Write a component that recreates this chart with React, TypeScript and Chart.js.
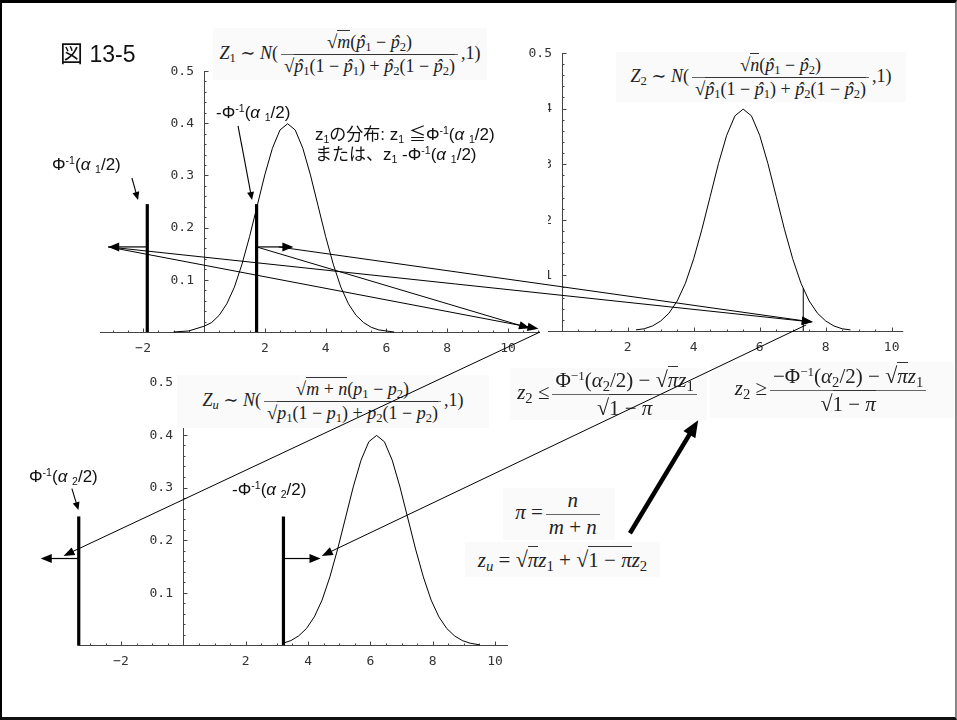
import React, { useEffect, useRef } from "react";
import { Chart, registerables } from "chart.js";

Chart.register(...registerables);

/* ---------------- values ---------------- */

// density of Z1 (upper left panel)
const z1CurveX = [-1.0, -0.5, 0, 0.25, 0.5, 0.75, 1.0, 1.25, 1.5, 1.75, 2.0, 2.25, 2.5, 2.75, 3.0, 3.25, 3.5, 3.75, 4.0, 4.25, 4.5, 4.75, 5.0, 5.25, 5.5, 5.75, 6.0, 6.25];
const z1CurveY = [0, 0.002, 0.011, 0.018, 0.032, 0.054, 0.086, 0.13, 0.183, 0.242, 0.301, 0.352, 0.387, 0.399, 0.387, 0.352, 0.301, 0.242, 0.183, 0.13, 0.086, 0.054, 0.032, 0.018, 0.009, 0.004, 0.002, 0];

// density of Z2 (upper right panel)
const z2CurveX = [2.25, 2.5, 2.75, 3.0, 3.25, 3.5, 3.75, 4.0, 4.25, 4.5, 4.75, 5.0, 5.25, 5.5, 5.75, 6.0, 6.25, 6.5, 6.75, 7.0, 7.25, 7.5, 7.75, 8.0, 8.25, 8.5, 8.75];
const z2CurveY = [0.002, 0.004, 0.009, 0.018, 0.032, 0.054, 0.086, 0.13, 0.183, 0.242, 0.301, 0.352, 0.387, 0.399, 0.387, 0.352, 0.301, 0.242, 0.183, 0.13, 0.086, 0.054, 0.032, 0.018, 0.009, 0.004, 0.002];

// density of Zu (lower panel)
const zuCurveX = [3.2, 3.45, 3.7, 3.95, 4.2, 4.45, 4.7, 4.95, 5.2, 5.45, 5.7, 5.95, 6.2, 6.45, 6.7, 6.95, 7.2, 7.45, 7.7, 7.95, 8.2, 8.45, 8.7, 8.95, 9.2, 9.5];
const zuCurveY = [0.004, 0.009, 0.018, 0.032, 0.054, 0.086, 0.13, 0.183, 0.242, 0.301, 0.352, 0.387, 0.399, 0.387, 0.352, 0.301, 0.242, 0.183, 0.13, 0.086, 0.054, 0.032, 0.018, 0.009, 0.004, 0.001];

// critical values (thick vertical lines) and their height
const z1CriticalX = [-1.865, 1.73];
const zuCriticalX = [-3.36, 3.21];
const criticalTop = 0.245;

// thin marker on the Z2 density
const z2MarkX = 7.32;
const z2MarkTop = 0.077;

// axis ticks
const xTickValues = [-2, 2, 4, 6, 8, 10];
const xTickLabels = ["\u22122", "2", "4", "6", "8", "10"];
const z2XTickValues = [2, 4, 6, 8, 10];
const z2XTickLabels = ["2", "4", "6", "8", "10"];
const yTickValues = [0.1, 0.2, 0.3, 0.4, 0.5];
const yTickLabels = ["0.1", "0.2", "0.3", "0.4", "0.5"];
const xMinorStep = 0.5;
const yMinorStep = 0.02;

type PanelKey = "z1" | "z2" | "zu";

// rejection arrows: panel, start x, y, tip x
const rejectArrows: [PanelKey, number, number, number][] = [
  ["z1", -1.865, 0.163, -3.15],
  ["z1", 1.73, 0.163, 2.94],
  ["zu", -3.36, 0.165, -4.58],
  ["zu", 3.21, 0.165, 4.4],
];

// short pointers to the critical values: panel, from x, y, to x, y
const pointerArrows: [PanelKey, number, number, number, number][] = [
  ["z1", -2.37, 0.295, -2.17, 0.253],
  ["z1", 1.12, 0.395, 1.58, 0.253],
  ["zu", -3.58, 0.298, -3.37, 0.257],
];

// arrows carrying regions between panels: from panel, x, y, to panel, x, y
const mapArrows: [PanelKey, number, number, PanelKey, number, number][] = [
  ["z1", -3.15, 0.163, "z1", 11.0, 0.006],
  ["z1", 1.73, 0.163, "z1", 10.72, 0.007],
  ["z1", -3.15, 0.163, "z2", 7.61, 0.016],
  ["z1", 2.45, 0.163, "z2", 7.61, 0.016],
  ["z1", 11.05, 0, "zu", -3.85, 0.17],
  ["z2", 7.41, 0.011, "zu", 4.44, 0.17],
];

// bold arrow pointing at the z2 bounds (lower panel coordinates)
const boldArrow: [PanelKey, number, number, number, number] = ["zu", 14.33, 0.213, 16.52, 0.428];

/* ---------------- layout ---------------- */

const panels: Record<PanelKey, {
  left: number; top: number; width: number; height: number;
  pad: { left: number; top: number; right: number; bottom: number };
  xMin: number; xMax: number; white: boolean;
}> = {
  z2: { left: 500, top: 40, width: 420, height: 320, pad: { left: 46.85, top: 13, right: 16.75, bottom: 29 }, xMin: -0.45, xMax: 10.35, white: false },
  z1: { left: 60, top: 62, width: 488, height: 298, pad: { left: 40, top: 9, right: 8, bottom: 28 }, xMin: -3.42, xMax: 11.05, white: true },
  zu: { left: 20, top: 370, width: 500, height: 300, pad: { left: 57.5, top: 12.3, right: 11.9, bottom: 24.7 }, xMin: -3.4, xMax: 10.42, white: false },
};

const AXIS = "#444";
const LABEL = "#333";
const MONO = '"DejaVu Sans Mono", "Liberation Mono", monospace';

/* ---------------- plugins ---------------- */

const whiteBackground = {
  id: "whiteBackground",
  beforeDraw(chart: any) {
    const { ctx, width, height } = chart;
    ctx.save();
    ctx.fillStyle = "#fff";
    ctx.fillRect(0, 0, width, height);
    ctx.restore();
  },
};

// axes crossing at the origin, inward ticks, labels beside them
const originAxes = {
  id: "originAxes",
  beforeDatasetsDraw(chart: any, _args: any, opts: any) {
    const { ctx } = chart;
    const xs = chart.scales.x;
    const ys = chart.scales.y;
    const x0 = Math.round(xs.getPixelForValue(0)) + 0.5;
    const y0 = Math.round(ys.getPixelForValue(0)) + 0.5;
    const yTop = ys.getPixelForValue(0.5);
    ctx.save();
    ctx.strokeStyle = AXIS;
    ctx.lineWidth = 1;
    ctx.beginPath();
    ctx.moveTo(xs.left, y0);
    ctx.lineTo(xs.right, y0);
    ctx.moveTo(x0, y0);
    ctx.lineTo(x0, yTop);
    const xVals: number[] = opts.xValues;
    for (let k = Math.ceil(xs.min / xMinorStep); k * xMinorStep <= xs.max + 1e-9; k++) {
      const v = k * xMinorStep;
      if (Math.abs(v) < 1e-9) continue;
      const major = xVals.some((m) => Math.abs(m - v) < 1e-9);
      const px = Math.round(xs.getPixelForValue(v)) + 0.5;
      ctx.moveTo(px, y0);
      ctx.lineTo(px, y0 - (major ? 4 : 2));
    }
    for (let k = 1; k * yMinorStep <= 0.5 + 1e-9; k++) {
      const v = k * yMinorStep;
      const major = k % 5 === 0;
      const py = Math.round(ys.getPixelForValue(v)) + 0.5;
      ctx.moveTo(x0, py);
      ctx.lineTo(x0 + (major ? 4 : 2), py);
    }
    ctx.stroke();

    ctx.fillStyle = LABEL;
    ctx.font = `13px ${MONO}`;
    ctx.textAlign = "center";
    ctx.textBaseline = "middle";
    xVals.forEach((v, i) => {
      ctx.fillText(opts.xLabels[i], xs.getPixelForValue(v), y0 + 16);
    });
    ctx.textAlign = "right";
    yTickValues.forEach((v, i) => {
      ctx.fillText(yTickLabels[i], x0 - 10.5, ys.getPixelForValue(v) + 0.5);
    });
    ctx.restore();
  },
};

/* ---------------- helpers ---------------- */

const pts = (xs: number[], ys: number[]) => xs.map((x, i) => ({ x, y: ys[i] }));

const lineSet = (data: { x: number; y: number }[], width: number) => ({
  data,
  borderColor: "#000",
  borderWidth: width,
  pointRadius: 0,
  tension: 0,
  fill: false,
  borderCapStyle: "butt",
  clip: false,
});

function datasetsFor(key: PanelKey) {
  if (key === "z1") {
    return [
      lineSet(pts(z1CurveX, z1CurveY), 1),
      ...z1CriticalX.map((c) => lineSet([{ x: c, y: 0 }, { x: c, y: criticalTop }], 3.2)),
    ];
  }
  if (key === "z2") {
    return [
      lineSet(pts(z2CurveX, z2CurveY), 1),
      lineSet([{ x: z2MarkX, y: 0 }, { x: z2MarkX, y: z2MarkTop }], 1),
    ];
  }
  return [
    lineSet(pts(zuCurveX, zuCurveY), 1),
    ...zuCriticalX.map((c) => lineSet([{ x: c, y: 0 }, { x: c, y: criticalTop }], 3.2)),
  ];
}

function drawArrow(ctx: CanvasRenderingContext2D, a: number[], b: number[], lw: number, headLen: number, headHalf: number) {
  const ang = Math.atan2(b[1] - a[1], b[0] - a[0]);
  const c = Math.cos(ang);
  const s = Math.sin(ang);
  const bx = b[0] - headLen * c;
  const by = b[1] - headLen * s;
  ctx.lineWidth = lw;
  ctx.beginPath();
  ctx.moveTo(a[0], a[1]);
  ctx.lineTo(bx + 1.5 * c, by + 1.5 * s);
  ctx.stroke();
  ctx.beginPath();
  ctx.moveTo(b[0], b[1]);
  ctx.lineTo(bx - headHalf * s, by + headHalf * c);
  ctx.lineTo(bx + headHalf * s, by - headHalf * c);
  ctx.closePath();
  ctx.fill();
}

/* ---------------- text pieces ---------------- */

const SANS = '"Liberation Sans", Arial, "Noto Sans CJK JP", sans-serif';
const SERIF = '"Liberation Serif", "DejaVu Serif", serif';

const Sup = ({ children }: any) => (
  <span style={{ fontSize: "0.62em", verticalAlign: "0.55em", lineHeight: 0 }}>{children}</span>
);
const Sub = ({ children }: any) => (
  <span style={{ fontSize: "0.62em", verticalAlign: "-0.3em", lineHeight: 0 }}>{children}</span>
);
const It = ({ children }: any) => <span style={{ fontStyle: "italic" }}>{children}</span>;

const Lbl = ({ x, y, size = 17, children }: any) => (
  <div
    style={{
      position: "absolute", left: x, top: y, transform: "translateY(-50%)",
      fontFamily: SANS, fontSize: size, lineHeight: 1.2, color: "#111", whiteSpace: "nowrap",
    }}
  >
    {children}
  </div>
);

const PhiInv = ({ k, minus }: any) => (
  <>
    {minus ? "-" : ""}Φ<Sup>-1</Sup>(<It>α</It> <Sub>{k}</Sub>/2)
  </>
);

// math typesetting
const Ms = ({ children }: any) => (
  <span style={{ fontSize: "0.7em", verticalAlign: "-0.25em", lineHeight: 0 }}>{children}</span>
);
const Hat = ({ children }: any) => (
  <span style={{ position: "relative", display: "inline-block", fontStyle: "italic" }}>
    {children}
    <span style={{ position: "absolute", left: "0.14em", top: "0.02em" }}>ˆ</span>
  </span>
);
const Sqrt = ({ children }: any) => (
  <span style={{ whiteSpace: "nowrap" }}>
    <span style={{ fontSize: "1.05em" }}>√</span>
    <span style={{ borderTop: "1px solid #333", paddingTop: 1 }}>{children}</span>
  </span>
);
const Frac = ({ n, d }: any) => (
  <span
    style={{
      display: "inline-flex", flexDirection: "column", alignItems: "stretch",
      verticalAlign: "middle", margin: "0 3px", textAlign: "center",
    }}
  >
    <span style={{ padding: "0 3px", lineHeight: "1.22em" }}>{n}</span>
    <span style={{ borderTop: "1.5px solid #666", padding: "0 3px", lineHeight: "1.22em" }}>{d}</span>
  </span>
);
const MathBox = ({ x, y, w, h, size = 18, children }: any) => (
  <div
    style={{
      position: "absolute", left: x, top: y, width: w, height: h, background: "#fafafa",
      display: "flex", alignItems: "center", justifyContent: "center",
      fontFamily: SERIF, fontSize: size, color: "#222", whiteSpace: "nowrap",
    }}
  >
    <span>{children}</span>
  </div>
);

const P = ({ k }: any) => (
  <>
    <Hat>p</Hat>
    <Ms>{k}</Ms>
  </>
);
const Pp = ({ k }: any) => (
  <>
    <It>p</It>
    <Ms>{k}</Ms>
  </>
);

/* ---------------- component ---------------- */

export default function App() {
  const refs = {
    z2: useRef<HTMLCanvasElement>(null),
    z1: useRef<HTMLCanvasElement>(null),
    zu: useRef<HTMLCanvasElement>(null),
  };
  const overlayRef = useRef<HTMLCanvasElement>(null);

  useEffect(() => {
    const keys: PanelKey[] = ["z2", "z1", "zu"];
    const charts: Partial<Record<PanelKey, Chart>> = {};
    keys.forEach((key) => {
      const p = panels[key];
      const xLabels = key === "z2" ? z2XTickLabels : xTickLabels;
      const xValues = key === "z2" ? z2XTickValues : xTickValues;
      charts[key] = new Chart(refs[key].current as HTMLCanvasElement, {
        type: "line",
        data: { datasets: datasetsFor(key) as any },
        options: {
          animation: false,
          responsive: false,
          devicePixelRatio: 1,
          events: [],
          layout: { padding: p.pad },
          plugins: {
            legend: { display: false },
            tooltip: { enabled: false },
            originAxes: { xValues, xLabels },
          } as any,
          scales: {
            x: { type: "linear", min: p.xMin, max: p.xMax, display: false },
            y: { type: "linear", min: 0, max: 0.5, display: false },
          },
        },
        plugins: p.white ? [whiteBackground, originAxes] : [originAxes],
      });
    });

    const page = (key: PanelKey, x: number, y: number) => {
      const c = charts[key] as any;
      const p = panels[key];
      return [p.left + c.scales.x.getPixelForValue(x), p.top + c.scales.y.getPixelForValue(y)];
    };

    const ov = overlayRef.current as HTMLCanvasElement;
    const ctx = ov.getContext("2d") as CanvasRenderingContext2D;
    ctx.clearRect(0, 0, ov.width, ov.height);
    ctx.strokeStyle = "#000";
    ctx.fillStyle = "#000";
    ctx.lineCap = "butt";

    rejectArrows.forEach(([k, x, y, tip]) => {
      drawArrow(ctx, page(k, x, y), page(k, tip, y), 1.2, 11, 4.5);
    });
    pointerArrows.forEach(([k, x1, y1, x2, y2]) => {
      drawArrow(ctx, page(k, x1, y1), page(k, x2, y2), 1.1, 8, 3.5);
    });
    mapArrows.forEach(([k1, x1, y1, k2, x2, y2]) => {
      drawArrow(ctx, page(k1, x1, y1), page(k2, x2, y2), 1, 11, 4.2);
    });
    {
      const [k, x1, y1, x2, y2] = boldArrow;
      drawArrow(ctx, page(k, x1, y1), page(k, x2, y2), 4.5, 17, 7);
    }

    return () => {
      keys.forEach((k) => charts[k]?.destroy());
    };
  }, []);

  const canvasFor = (key: PanelKey) => {
    const p = panels[key];
    return (
      <canvas
        key={key}
        ref={refs[key]}
        width={p.width}
        height={p.height}
        style={{ position: "absolute", left: p.left, top: p.top, width: p.width, height: p.height }}
      />
    );
  };

  return (
    <div
      style={{
        position: "fixed", left: 0, top: 0, width: 957, height: 720,
        background: "#fff", overflow: "hidden",
      }}
    >
      {canvasFor("z2")}
      {canvasFor("z1")}
      {canvasFor("zu")}

      {/* formulas */}
      <MathBox x={213} y={28} w={274} h={52}>
        <It>Z</It><Ms>1</Ms> ∼ <It>N</It>(
        <Frac
          n={<><Sqrt><It>m</It></Sqrt>(<P k={1} /> − <P k={2} />)</>}
          d={<Sqrt><P k={1} />(1 − <P k={1} />) + <P k={2} />(1 − <P k={2} />)</Sqrt>}
        />
        ,1)
      </MathBox>
      <MathBox x={616} y={52} w={290} h={50}>
        <It>Z</It><Ms>2</Ms> ∼ <It>N</It>(
        <Frac
          n={<><Sqrt><It>n</It></Sqrt>(<P k={1} /> − <P k={2} />)</>}
          d={<Sqrt><P k={1} />(1 − <P k={1} />) + <P k={2} />(1 − <P k={2} />)</Sqrt>}
        />
        ,1)
      </MathBox>
      <MathBox x={177} y={375} w={312} h={53}>
        <It>Z</It><Ms><It>u</It></Ms> ∼ <It>N</It>(
        <Frac
          n={<><Sqrt><It>m</It> + <It>n</It></Sqrt>(<Pp k={1} /> − <Pp k={2} />)</>}
          d={<Sqrt><Pp k={1} />(1 − <Pp k={1} />) + <Pp k={2} />(1 − <Pp k={2} />)</Sqrt>}
        />
        ,1)
      </MathBox>
      <MathBox x={510} y={368} w={197} h={52} size={21}>
        <It>z</It><Ms>2</Ms> ≤
        <Frac
          n={<>Φ<Sup>−1</Sup>(<It>α</It><Ms>2</Ms>/2) − <Sqrt><It>π</It></Sqrt><It>z</It><Ms>1</Ms></>}
          d={<Sqrt>1 − <It>π</It></Sqrt>}
        />
      </MathBox>
      <MathBox x={710} y={362} w={244} h={56} size={21}>
        <It>z</It><Ms>2</Ms> ≥
        <Frac
          n={<>−Φ<Sup>−1</Sup>(<It>α</It><Ms>2</Ms>/2) − <Sqrt><It>π</It></Sqrt><It>z</It><Ms>1</Ms></>}
          d={<Sqrt>1 − <It>π</It></Sqrt>}
        />
      </MathBox>
      <MathBox x={503} y={488} w={112} h={52} size={21}>
        <It>π</It> =
        <Frac n={<It>n</It>} d={<><It>m</It> + <It>n</It></>} />
      </MathBox>
      <MathBox x={465} y={542} w={195} h={35} size={21}>
        <It>z</It><Ms><It>u</It></Ms> = <Sqrt><It>π</It></Sqrt><It>z</It><Ms>1</Ms> + <Sqrt>1 − <It>π</It></Sqrt><It>z</It><Ms>2</Ms>
      </MathBox>

      {/* labels */}
      <Lbl x={60} y={55} size={23}>図 13-5</Lbl>
      <Lbl x={216} y={113}><PhiInv k={1} minus /></Lbl>
      <Lbl x={52} y={165}><PhiInv k={1} /></Lbl>
      <Lbl x={315} y={135}>
        z<Sub>1</Sub>の分布: z<Sub>1</Sub> ≦Φ<Sup>-1</Sup>(<It>α</It> <Sub>1</Sub>/2)
      </Lbl>
      <Lbl x={315} y={155}>
        または、z<Sub>1</Sub> -Φ<Sup>-1</Sup>(<It>α</It> <Sub>1</Sub>/2)
      </Lbl>
      <Lbl x={29} y={477}><PhiInv k={2} /></Lbl>
      <Lbl x={232} y={490}><PhiInv k={2} minus /></Lbl>

      <canvas
        ref={overlayRef}
        width={957}
        height={720}
        style={{ position: "absolute", left: 0, top: 0, width: 957, height: 720, pointerEvents: "none" }}
      />

      {/* frame */}
      <div
        style={{
          position: "absolute", left: 0, top: 0, width: 957, height: 720, boxSizing: "border-box",
          borderTop: "3px solid #000", borderLeft: "2px solid #000",
          borderBottom: "3px solid #111", borderRight: "2px solid #888", pointerEvents: "none",
        }}
      />
    </div>
  );
}
